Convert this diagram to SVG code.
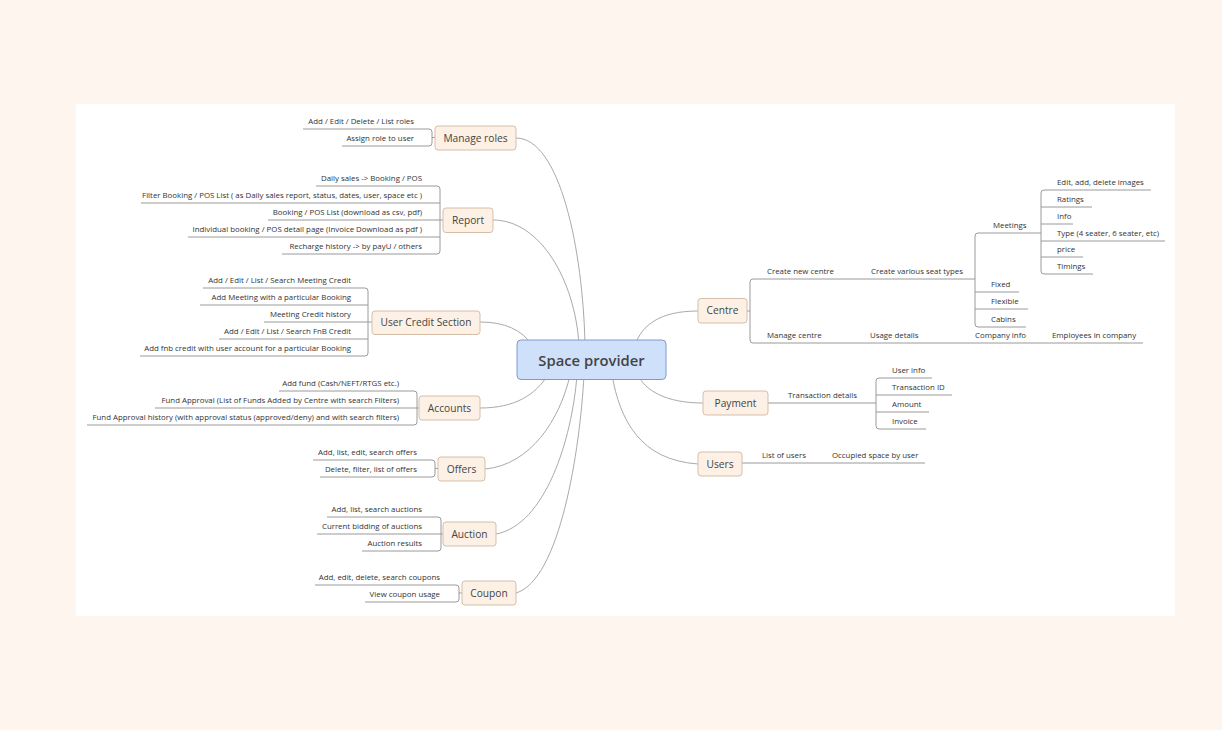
<svg xmlns="http://www.w3.org/2000/svg" width="1222" height="730" viewBox="0 0 1222 730">
<style>
.t{font-family:"Open Sans","Liberation Sans",sans-serif;font-size:7.85px;fill:#333}
.e{text-anchor:end}
.m{font-family:"Open Sans","Liberation Sans",sans-serif;font-size:10.2px;fill:#444;text-anchor:middle}
.box{fill:#fdf1e6;stroke:#d5bfa9;stroke-width:1}
.ln{fill:none;stroke:#9a9a9a;stroke-width:1}
.cv{fill:none;stroke:#aaaaaa;stroke-width:1}
</style>
<rect width="1222" height="730" fill="#fef5ef"/>
<rect x="76" y="104" width="1099" height="512" fill="#ffffff"/>
<g id="connectors">
<path class="cv" d="M516,138 C560,138 583,250 585,345"/>
<path class="cv" d="M493,220 C540,220 575,280 579,345"/>
<path class="cv" d="M480,322 C505,322 522,330 532,345"/>
<path class="cv" d="M480,408 C515,408 535,395 548,375"/>
<path class="cv" d="M485,469 C530,465 560,420 570,375"/>
<path class="cv" d="M496,534 C545,525 572,440 577,375"/>
<path class="cv" d="M516,593 C560,580 580,450 584,375"/>
<path class="cv" d="M698,311 C660,311 642,325 635,345"/>
<path class="cv" d="M703,403 C665,403 645,390 638,375"/>
<path class="cv" d="M698,464 C640,460 620,420 612,375"/>
<path class="ln" d="M303,129 H429 Q432,129 432,132 V143 Q432,146 429,146 H342 M432,137.5 H435"/>
<path class="ln" d="M316,186 H437 Q440,186 440,189 V251 Q440,254 437,254 H282 M141,203 H440 M268,220 H443 M188,237 H440"/>
<path class="ln" d="M203,288 H365 Q368,288 368,291 V353 Q368,356 365,356 H140 M200,305 H368 M264,322 H372 M219,339 H368"/>
<path class="ln" d="M279,391 H414 Q417,391 417,394 V422 Q417,425 414,425 H87 M155,408 H419"/>
<path class="ln" d="M313,460 H432 Q435,460 435,463 V474 Q435,477 432,477 H320 M435,468.5 H438"/>
<path class="ln" d="M327,517 H438 Q441,517 441,520 V548 Q441,551 438,551 H362 M317,534 H443"/>
<path class="ln" d="M315,585 H456 Q459,585 459,588 V599 Q459,602 456,602 H365 M459,593 H462"/>
<path class="ln" d="M747,311 H750 M975,279 H753 Q750,279 750,282 V340 Q750,343 753,343 H1143"/>
<path class="ln" d="M1019,292 H975 M1041,233 H978 Q975,233 975,236 V324 Q975,327 978,327 H1026 M975,309 H1028"/>
<path class="ln" d="M1151,190 H1044 Q1041,190 1041,193 V271 Q1041,274 1044,274 H1093 M1041,207 H1092 M1041,224 H1073 M1041,241 H1165 M1041,257 H1083"/>
<path class="ln" d="M768,403 H876 M932,378 H879 Q876,378 876,381 V426 Q876,429 879,429 H926 M876,395 H952 M876,412 H929"/>
<path class="ln" d="M742,463 H925"/>
</g>
<g id="center">
<rect x="517" y="340" width="149" height="39.5" rx="4" fill="#cfe0fb" stroke="#7d9ad0" stroke-width="1"/>
<text x="591.5" y="365.5" font-family="'Open Sans','Liberation Sans',sans-serif" font-size="14.8" font-weight="600" fill="#444" text-anchor="middle">Space provider</text>
</g>
<g id="manage-roles">
<rect class="box" x="435" y="126" width="81" height="24" rx="3"/>
<text class="m" x="475.5" y="141.6">Manage roles</text>
<text class="t e" x="414" y="124">Add / Edit / Delete / List roles</text>
<text class="t e" x="414" y="141">Assign role to user</text>
</g>
<g id="report">
<rect class="box" x="443" y="208" width="50" height="24.5" rx="3"/>
<text class="m" x="468" y="223.8">Report</text>
<text class="t e" x="422" y="181">Daily sales -&gt; Booking / POS</text>
<text class="t e" x="422" y="198">Filter Booking / POS List ( as Daily sales report, status, dates, user, space etc )</text>
<text class="t e" x="422" y="215">Booking / POS List (download as csv, pdf)</text>
<text class="t e" x="422" y="232">Individual booking / POS detail page (Invoice Download as pdf )</text>
<text class="t e" x="422" y="249">Recharge history -&gt; by payU /  others</text>
</g>
<g id="user-credit">
<rect class="box" x="372" y="311" width="108" height="23.5" rx="3"/>
<text class="m" x="426" y="326.3">User Credit Section</text>
<text class="t e" x="351" y="283">Add / Edit / List / Search Meeting Credit</text>
<text class="t e" x="351" y="300">Add Meeting with a particular Booking</text>
<text class="t e" x="351" y="317">Meeting Credit history</text>
<text class="t e" x="351" y="334">Add / Edit / List / Search FnB Credit</text>
<text class="t e" x="351" y="351">Add fnb credit with user account for a particular Booking</text>
</g>
<g id="accounts">
<rect class="box" x="419" y="396" width="61" height="24" rx="3"/>
<text class="m" x="449.5" y="411.6">Accounts</text>
<text class="t e" x="399" y="386">Add fund (Cash/NEFT/RTGS etc.)</text>
<text class="t e" x="399" y="403">Fund Approval (List of Funds Added by Centre with search Filters)</text>
<text class="t e" x="399" y="420">Fund Approval history (with approval status (approved/deny) and with search filters)</text>
</g>
<g id="offers">
<rect class="box" x="438" y="457" width="47" height="24" rx="3"/>
<text class="m" x="461.5" y="472.6">Offers</text>
<text class="t e" x="417" y="455">Add, list, edit, search offers</text>
<text class="t e" x="417" y="472">Delete, filter, list of offers</text>
</g>
<g id="auction">
<rect class="box" x="443" y="522" width="53" height="24" rx="3"/>
<text class="m" x="469.5" y="537.6">Auction</text>
<text class="t e" x="422" y="512">Add, list, search auctions</text>
<text class="t e" x="422" y="529">Current bidding of auctions</text>
<text class="t e" x="422" y="546">Auction results</text>
</g>
<g id="coupon">
<rect class="box" x="462" y="581" width="54" height="24" rx="3"/>
<text class="m" x="489" y="596.6">Coupon</text>
<text class="t e" x="440" y="580">Add, edit, delete, search coupons</text>
<text class="t e" x="440" y="597">View coupon usage</text>
</g>
<g id="centre">
<rect class="box" x="698" y="298.5" width="49" height="24.5" rx="3"/>
<text class="m" x="722.5" y="314.4">Centre</text>
<text class="t" x="767" y="274">Create new centre</text>
<text class="t" x="871" y="274">Create various seat types</text>
<text class="t" x="993" y="228">Meetings</text>
<text class="t" x="1057" y="185">Edit, add, delete images</text>
<text class="t" x="1057" y="202">Ratings</text>
<text class="t" x="1057" y="219">Info</text>
<text class="t" x="1057" y="236">Type (4 seater, 6 seater, etc)</text>
<text class="t" x="1057" y="252">price</text>
<text class="t" x="1057" y="269">Timings</text>
<text class="t" x="991" y="287">Fixed</text>
<text class="t" x="991" y="304">Flexible</text>
<text class="t" x="991" y="322">Cabins</text>
<text class="t" x="767" y="338">Manage centre</text>
<text class="t" x="870" y="338">Usage details</text>
<text class="t" x="975" y="338">Company info</text>
<text class="t" x="1052" y="338">Employees in company</text>
</g>
<g id="payment">
<rect class="box" x="703" y="391" width="65" height="24" rx="3"/>
<text class="m" x="735.5" y="406.6">Payment</text>
<text class="t" x="788" y="398">Transaction details</text>
<text class="t" x="892" y="373">User info</text>
<text class="t" x="892" y="390">Transaction ID</text>
<text class="t" x="892" y="407">Amount</text>
<text class="t" x="892" y="424">Invoice</text>
</g>
<g id="users">
<rect class="box" x="698" y="452" width="44" height="24" rx="3"/>
<text class="m" x="720" y="467.6">Users</text>
<text class="t" x="762" y="458">List of users</text>
<text class="t" x="832" y="458">Occupied space by user</text>
</g>
</svg>
